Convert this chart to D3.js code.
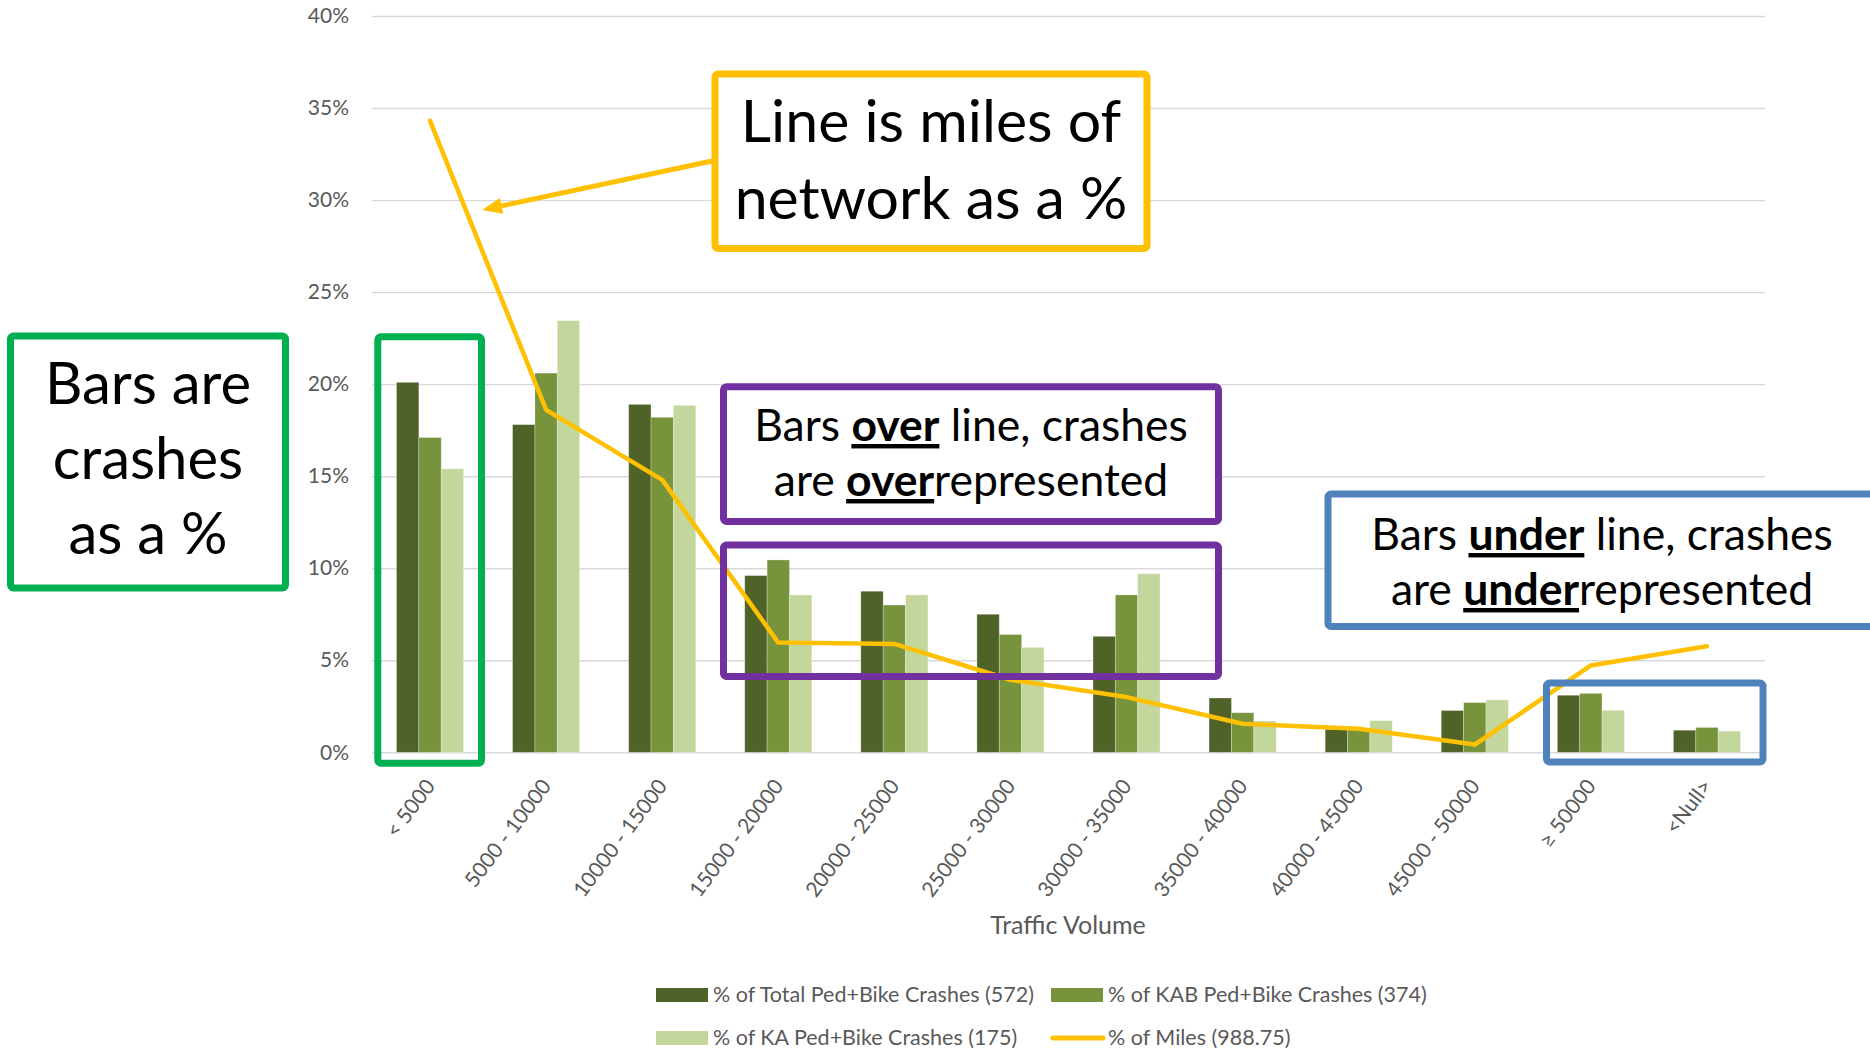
<!DOCTYPE html>
<html>
<head>
<meta charset="utf-8">
<script src="https://cdn.jsdelivr.net/npm/d3@7"></script>
<style>
    body { margin: 0; background: #fff; }
    svg { display: block; font-family: Lato, 'Open Sans', sans-serif; }
</style>
</head>
<body>
<svg id="chart"></svg>
<script>
const categories = ['< 5000', '5000 - 10000', '10000 - 15000', '15000 - 20000', '20000 - 25000',
    '25000 - 30000', '30000 - 35000', '35000 - 40000', '40000 - 45000', '45000 - 50000', '≥ 50000', '<Null>'];

// % of crashes per traffic volume band
const totalCrashes = [20.1, 17.8, 18.9, 9.6, 8.75, 7.5, 6.3, 2.95, 1.25, 2.27, 3.1, 1.2];
const kabCrashes = [17.1, 20.6, 18.2, 10.45, 8.0, 6.4, 8.55, 2.15, 1.3, 2.7, 3.2, 1.35];
const kaCrashes = [15.4, 23.45, 18.85, 8.55, 8.55, 5.7, 9.7, 1.7, 1.72, 2.85, 2.28, 1.15];
// % of network miles
const milesPct = [34.3, 18.6, 14.8, 5.96, 5.89, 3.94, 3.0, 1.55, 1.28, 0.42, 4.72, 5.76];

const seriesNames = ['% of Total Ped+Bike Crashes (572)', '% of KAB Ped+Bike Crashes (374)', '% of KA Ped+Bike Crashes (175)'];
const lineName = '% of Miles (988.75)';
const yTicks = [0, 5, 10, 15, 20, 25, 30, 35, 40];

const WIDTH = 1870;
const HEIGHT = 1051;
const COLORS = ['#4F6228', '#77933C', '#C3D69B'];
const LINE_COLOR = '#FFC000';
const TEXT_GRAY = '#595959';

const PLOT_LEFT = 372, PLOT_RIGHT = 1765, PLOT_TOP = 16, PLOT_BOTTOM = 752.3;

const svg = d3.select('#chart').attr('width', WIDTH).attr('height', HEIGHT);

const x = d3.scaleBand()
    .domain(categories)
    .range([PLOT_LEFT, PLOT_RIGHT]);

const bw = x.bandwidth();
const x1 = d3.scaleBand()
    .domain(d3.range(3))
    .range([bw * 0.211, bw * 0.789]);

const y = d3.scaleLinear()
    .domain([0, 40])
    .range([PLOT_BOTTOM, PLOT_TOP]);

// --- y axis + gridlines ---
const yAxis = d3.axisLeft(y)
    .tickValues(yTicks)
    .tickFormat(d => d + '%')
    .tickSize(-(PLOT_RIGHT - PLOT_LEFT))
    .tickPadding(23);

const yg = svg.append('g')
    .attr('transform', `translate(${PLOT_LEFT},0)`)
    .call(yAxis);
yg.select('.domain').remove();
yg.selectAll('.tick line').attr('stroke', '#D9D9D9').attr('stroke-width', 1.4);
yg.selectAll('.tick text')
    .attr('fill', TEXT_GRAY)
    .style('font-size', '21px')
    .style('font-family', 'Lato');

// --- x axis labels ---
const xg = svg.append('g')
    .attr('transform', `translate(0,${PLOT_BOTTOM})`)
    .call(d3.axisBottom(x).tickSize(0));
xg.select('.domain').remove();
xg.selectAll('.tick text')
    .attr('y', null)
    .attr('dy', null)
    .attr('text-anchor', 'end')
    .attr('transform', 'translate(6,34) rotate(-53)')
    .attr('fill', TEXT_GRAY)
    .style('font-size', '21px')
    .style('font-family', 'Lato');

svg.append('text')
    .attr('x', 1068)
    .attr('y', 934)
    .attr('text-anchor', 'middle')
    .attr('fill', TEXT_GRAY)
    .style('font-size', '25px')
    .text('Traffic Volume');

// --- bars ---
const rows = categories.map((c, i) => ({cat: c, vals: [totalCrashes[i], kabCrashes[i], kaCrashes[i]]}));

const groups = svg.append('g').selectAll('g')
    .data(rows)
    .enter().append('g')
    .attr('transform', d => `translate(${x(d.cat)},0)`);

groups.selectAll('rect')
    .data(d => d.vals.map((v, k) => ({v, k})))
    .enter().append('rect')
    .attr('x', d => x1(d.k))
    .attr('width', x1.bandwidth())
    .attr('y', d => y(d.v))
    .attr('height', d => y(0) - y(d.v))
    .attr('fill', d => COLORS[d.k])
    .attr('stroke', '#fff')
    .attr('stroke-opacity', 0.35)
    .attr('stroke-width', 0.8);

// --- line ---
const line = d3.line()
    .x((d, i) => x(categories[i]) + bw / 2)
    .y(d => y(d));

svg.append('path')
    .attr('d', line(milesPct))
    .attr('fill', 'none')
    .attr('stroke', LINE_COLOR)
    .attr('stroke-width', 4.5)
    .attr('stroke-linejoin', 'round')
    .attr('stroke-linecap', 'round');

// --- legend ---
const legend = svg.append('g').style('font-size', '21.5px').attr('fill', TEXT_GRAY);
const legendItems = [
    {name: seriesNames[0], type: 'bar', color: COLORS[0], lx: 656, ly: 995},
    {name: seriesNames[1], type: 'bar', color: COLORS[1], lx: 1051, ly: 995},
    {name: seriesNames[2], type: 'bar', color: COLORS[2], lx: 656, ly: 1038},
    {name: lineName, type: 'line', color: LINE_COLOR, lx: 1051, ly: 1038}
];
legendItems.forEach(it => {
    if (it.type === 'bar') {
        legend.append('rect')
            .attr('x', it.lx).attr('y', it.ly - 7)
            .attr('width', 52).attr('height', 14)
            .attr('fill', it.color);
    } else {
        legend.append('line')
            .attr('x1', it.lx + 2).attr('x2', it.lx + 52)
            .attr('y1', it.ly).attr('y2', it.ly)
            .attr('stroke', it.color).attr('stroke-width', 5)
            .attr('stroke-linecap', 'round');
    }
    legend.append('text')
        .attr('x', it.lx + 57)
        .attr('y', it.ly + 7)
        .text(it.name);
});

// --- annotations ---
const notes = svg.append('g');

const box = function (x0, y0, x1b, y1b, color) {
    notes.append('rect')
        .attr('x', x0).attr('y', y0)
        .attr('width', x1b - x0).attr('height', y1b - y0)
        .attr('rx', 3)
        .attr('fill', 'none')
        .attr('stroke', color)
        .attr('stroke-width', 7);
};

const boxFilled = function (x0, y0, x1b, y1b, color) {
    notes.append('rect')
        .attr('x', x0).attr('y', y0)
        .attr('width', x1b - x0).attr('height', y1b - y0)
        .attr('rx', 3)
        .attr('fill', '#fff')
        .attr('stroke', color)
        .attr('stroke-width', 7);
};

const noteText = function (lines, cx, y0, lh, size) {
    lines.forEach((segs, i) => {
        let t = notes.append('text')
            .attr('x', cx)
            .attr('y', y0 + i * lh)
            .attr('text-anchor', 'middle')
            .attr('fill', '#000')
            .style('font-size', size + 'px');
        segs.forEach(s => {
            t.append('tspan')
                .text(s.t)
                .style('font-weight', s.b ? 700 : 400)
                .style('text-decoration', s.b ? 'underline' : null);
        });
    });
};

// arrow from the yellow box to the line
const aStart = [712, 161], aTip = [482, 210];
const dx = aTip[0] - aStart[0], dy = aTip[1] - aStart[1];
const len = Math.hypot(dx, dy);
const ux = dx / len, uy = dy / len;
const bx = aTip[0] - ux * 20, by = aTip[1] - uy * 20;
notes.append('line')
    .attr('x1', aStart[0]).attr('y1', aStart[1])
    .attr('x2', bx).attr('y2', by)
    .attr('stroke', LINE_COLOR).attr('stroke-width', 5);
notes.append('path')
    .attr('d', `M${aTip[0]},${aTip[1]}L${bx - uy * 8},${by + ux * 8}L${bx + uy * 8},${by - ux * 8}Z`)
    .attr('fill', LINE_COLOR);

boxFilled(715, 74, 1147, 248.5, LINE_COLOR);
noteText([[{t: 'Line is miles of'}], [{t: 'network as a %'}]], 931, 142, 76.6, 59);

boxFilled(10.5, 336, 285.5, 588, '#00B050');
noteText([[{t: 'Bars are'}], [{t: 'crashes'}], [{t: 'as a %'}]], 148, 404, 75, 58);

box(377.8, 336.8, 481.5, 763.2, '#00B050');

boxFilled(723.5, 386.8, 1218.5, 521.5, '#7030A0');
noteText([[{t: 'Bars '}, {t: 'over', b: true}, {t: ' line, crashes'}],
    [{t: 'are '}, {t: 'over', b: true}, {t: 'represented'}]], 971, 441, 55, 44.5);

box(723.5, 545, 1218.5, 676.5, '#7030A0');

boxFilled(1328, 494, 1885, 626.5, '#4F81BD');
noteText([[{t: 'Bars '}, {t: 'under', b: true}, {t: ' line, crashes'}],
    [{t: 'are '}, {t: 'under', b: true}, {t: 'represented'}]], 1602, 550, 55, 44.5);

box(1546.5, 683, 1763, 762, '#4F81BD');
</script>
</body>
</html>
